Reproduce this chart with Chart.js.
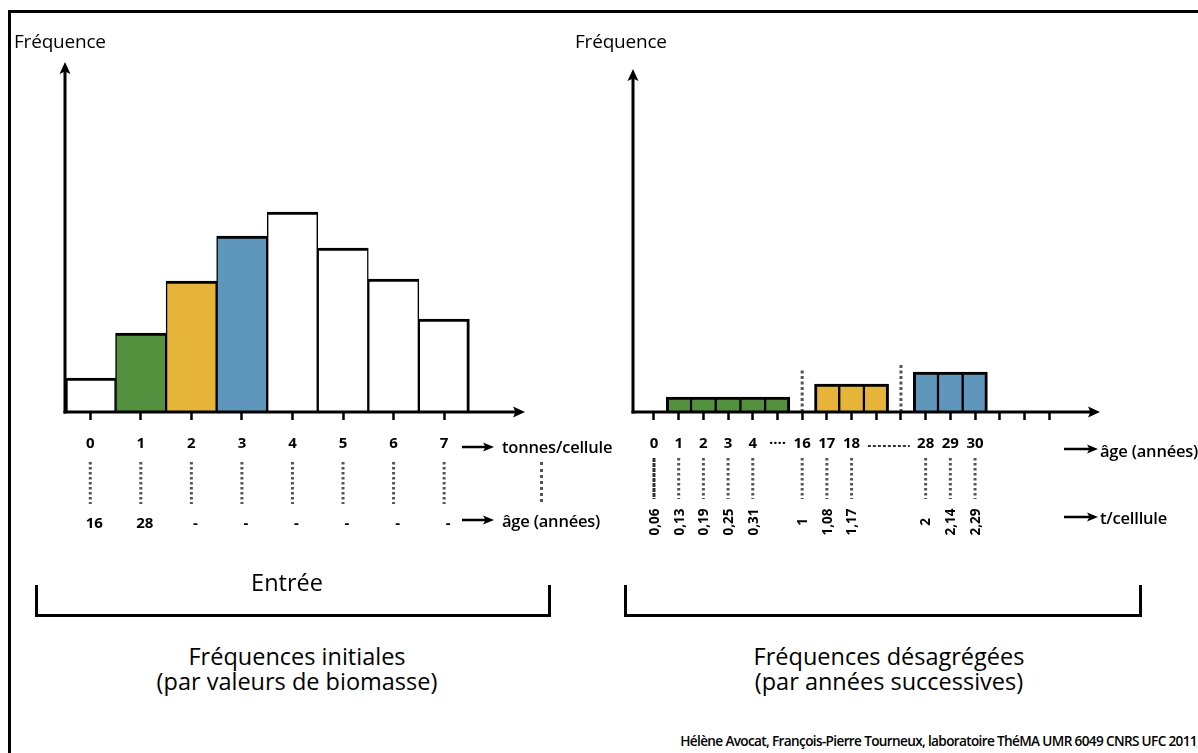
<!DOCTYPE html>
<html>
<head>
<meta charset="utf-8">
<script src="https://cdn.jsdelivr.net/npm/chart.js@4.4.1/dist/chart.umd.min.js"></script>
<style>
html,body{margin:0;padding:0;background:#fff;width:1198px;height:753px;overflow:hidden;}
body{position:relative;font-family:'Open Sans',sans-serif;color:#000;}
.abs{position:absolute;white-space:nowrap;line-height:1;}
#frame{position:absolute;left:8px;top:10px;width:1400px;height:1000px;border:3px solid #000;box-sizing:border-box;}
.box{position:absolute;}
.freq{font-size:19px;font-weight:400;letter-spacing:-0.2px;}
.unit{font-size:16.5px;font-weight:600;letter-spacing:-0.2px;}
.title{font-size:23.5px;font-weight:400;text-align:center;width:400px;}
.bracket{position:absolute;border:3px solid #000;border-top:none;box-sizing:border-box;height:32px;top:585px;}
.credit{font-size:13.6px;font-weight:600;letter-spacing:-0.65px;right:1px;top:734px;}
.dotv{position:absolute;border-left:3px dotted #555;width:0;}
</style>
</head>
<body>
<div id="frame"></div>

<div class="box" style="left:0;top:0;width:600px;height:600px;"><canvas id="left"></canvas></div>
<div class="box" style="left:600px;top:0;width:598px;height:600px;"><canvas id="right"></canvas></div>

<div class="abs freq" style="left:14px;top:32px;">Fréquence</div>
<div class="abs freq" style="left:575px;top:32px;">Fréquence</div>

<svg class="abs" style="left:462px;top:442px" width="32" height="10"><line x1="0" y1="5" x2="24" y2="5" stroke="#000" stroke-width="2.5"/><path d="M32 5 L21 0.5 L23.5 5 L21 9.5Z" fill="#000"/></svg>
<div class="abs unit" style="left:502px;top:439px;">tonnes/cellule</div>
<div class="dotv" style="left:540px;top:462px;height:40px;"></div>
<svg class="abs" style="left:462px;top:515px" width="32" height="10"><line x1="0" y1="5" x2="24" y2="5" stroke="#000" stroke-width="2.5"/><path d="M32 5 L21 0.5 L23.5 5 L21 9.5Z" fill="#000"/></svg>
<div class="abs unit" style="left:502px;top:513px;">âge (années)</div>

<svg class="abs" style="left:1064px;top:444px" width="34" height="10"><line x1="0" y1="5" x2="26" y2="5" stroke="#000" stroke-width="2.5"/><path d="M34 5 L23 0.5 L25.5 5 L23 9.5Z" fill="#000"/></svg>
<div class="abs unit" style="left:1100px;top:443px;">âge (années)</div>
<svg class="abs" style="left:1064px;top:512px" width="34" height="10"><line x1="0" y1="5" x2="26" y2="5" stroke="#000" stroke-width="2.5"/><path d="M34 5 L23 0.5 L25.5 5 L23 9.5Z" fill="#000"/></svg>
<div class="abs unit" style="left:1100px;top:510px;">t/celllule</div>

<div class="abs title" style="left:87px;top:571px;font-size:23.5px;">Entrée</div>
<div class="bracket" style="left:35px;width:516px;"></div>
<div class="bracket" style="left:624px;width:518px;"></div>

<div class="abs title" style="left:97px;top:645px;">Fréquences initiales</div>
<div class="abs title" style="left:97px;top:670px;">(par valeurs de biomasse)</div>
<div class="abs title" style="left:689px;top:645px;">Fréquences désagrégées</div>
<div class="abs title" style="left:689px;top:670px;">(par années successives)</div>

<div class="abs credit">Hélène Avocat, François-Pierre Tourneux, laboratoire ThéMA UMR 6049 CNRS UFC 2011</div>

<script>
// ---------------- DATA ----------------
// Left: initial frequencies by biomass value (tonnes/cellule)
const tonnesValues   = [0, 1, 2, 3, 4, 5, 6, 7];
const tonnesLabels   = ['0', '1', '2', '3', '4', '5', '6', '7'];
const initialFreq    = [34, 79, 131, 176, 200, 164, 133, 93];
const initialGroup   = ['none', 'g1', 'g2', 'g3', 'none', 'none', 'none', 'none'];
const initialAgeLabels = ['16', '28', '-', '-', '-', '-', '-', '-'];

// Right: disaggregated frequencies by successive years (age slots)
const ageSlots       = [1, 2, 3, 4, 5, 7, 8, 9, 11, 12, 13];
const ageFreq        = [15, 15, 15, 15, 15, 28, 28, 28, 40, 40, 40];
const ageGroup       = ['g1', 'g1', 'g1', 'g1', 'g1', 'g2', 'g2', 'g2', 'g3', 'g3', 'g3'];
const ageTickValues  = [0, 1, 2, 3, 4, 5, 6, 7, 8, 9, 10, 11, 12, 13, 14, 15, 16];
const ageTickLabels  = ['0', '1', '2', '3', '4', '····', '16', '17', '18', '', '', '28', '29', '30', '', '', ''];
const tcellSlots     = [0, 1, 2, 3, 4, 6, 7, 8, 11, 12, 13];
const tcellLabels    = ['0,06', '0,13', '0,19', '0,25', '0,31', '1', '1,08', '1,17', '2', '2,14', '2,29'];
const separatorSlots = [6, 10];
const separatorTops  = [42, 48];
const gapDots        = [8.66, 10.36];

const groupColors = { none: '#ffffff', g1: '#54913f', g2: '#e7b43a', g3: '#5e97bb' };

// ---------------- PLUGIN ----------------
const diagram = {
  id: 'diagram',
  afterDatasetsDraw(chart, args, o) {
    const { ctx, chartArea: { left, right, top, bottom }, scales: { x, y } } = chart;
    ctx.save();
    // separators (dotted vertical) in plot area
    (o.sepX || []).forEach((sx, i) => {
      const px = x.getPixelForValue(sx), py = y.getPixelForValue(o.sepTop[i]);
      ctx.strokeStyle = '#555'; ctx.lineWidth = 3; ctx.setLineDash([3, 2.5]);
      ctx.beginPath(); ctx.moveTo(px, bottom); ctx.lineTo(px, py); ctx.stroke();
    });
    ctx.setLineDash([]);
    // axes with arrows
    ctx.strokeStyle = '#000'; ctx.fillStyle = '#000'; ctx.lineWidth = 3;
    ctx.beginPath(); ctx.moveTo(left, bottom + 1.5); ctx.lineTo(left, top + 8); ctx.stroke();
    ctx.beginPath(); ctx.moveTo(left - 1.5, bottom); ctx.lineTo(right - 8, bottom); ctx.stroke();
    ctx.beginPath(); ctx.moveTo(left, top); ctx.lineTo(left - 5.5, top + 12); ctx.lineTo(left, top + 9.5); ctx.lineTo(left + 5.5, top + 12); ctx.closePath(); ctx.fill();
    ctx.beginPath(); ctx.moveTo(right, bottom); ctx.lineTo(right - 12, bottom - 5.5); ctx.lineTo(right - 9.5, bottom); ctx.lineTo(right - 12, bottom + 5.5); ctx.closePath(); ctx.fill();
    // dotted guide lines below tick labels
    (o.guideX || []).forEach((gx, i) => {
      const px = x.getPixelForValue(gx);
      ctx.strokeStyle = (o.denseFirst && i === 0) ? '#333' : '#555';
      ctx.lineWidth = 3;
      ctx.setLineDash((o.denseFirst && i === 0) ? [4, 1] : [2.5, 2.5]);
      ctx.beginPath(); ctx.moveTo(px, bottom + o.guideTop); ctx.lineTo(px, bottom + o.guideBottom); ctx.stroke();
    });
    ctx.setLineDash([]);
    // dotted gap in first label row
    if (o.gapDots) {
      ctx.strokeStyle = '#333'; ctx.lineWidth = 2; ctx.setLineDash([3, 2]);
      const y0 = bottom + o.gapY;
      ctx.beginPath(); ctx.moveTo(x.getPixelForValue(o.gapDots[0]), y0); ctx.lineTo(x.getPixelForValue(o.gapDots[1]), y0); ctx.stroke();
      ctx.setLineDash([]);
    }
    // second label row
    ctx.fillStyle = '#000';
    ctx.font = o.rowFont;
    (o.rowX || []).forEach((rx, i) => {
      const px = x.getPixelForValue(rx);
      if (o.rotate) {
        ctx.save();
        ctx.translate(px, bottom + o.rowY);
        ctx.rotate(-Math.PI / 2);
        ctx.textAlign = 'center'; ctx.textBaseline = 'middle';
        ctx.fillText(o.rowLabels[i], 0, 1);
        ctx.restore();
      } else {
        ctx.textAlign = 'center'; ctx.textBaseline = 'alphabetic';
        ctx.fillText(o.rowLabels[i], px + 4, bottom + o.rowY);
      }
    });
    ctx.restore();
  }
};

function edgeWidths(slots) {
  return (c) => {
    const s = slots[c.dataIndex];
    const hasPrev = slots.includes(s - 1), hasNext = slots.includes(s + 1);
    return { top: 3, bottom: 0, left: hasPrev ? 1.5 : 3, right: hasNext ? 1.5 : 3 };
  };
}

const tickFont = { family: "'Open Sans', sans-serif", size: 15, weight: '700' };

function makeChart(id, cfg) {
  return new Chart(document.getElementById(id), {
    type: 'bar',
    data: {
      datasets: [{
        data: cfg.xs.map((v, i) => ({ x: v, y: cfg.ys[i] })),
        backgroundColor: cfg.groups.map(g => groupColors[g]),
        borderColor: '#000',
        borderWidth: edgeWidths(cfg.xs),
        borderSkipped: 'start',
        categoryPercentage: 1,
        barPercentage: 1
      }]
    },
    options: {
      responsive: true,
      maintainAspectRatio: false,
      devicePixelRatio: 1,
      animation: false,
      layout: { padding: cfg.padding },
      plugins: { legend: { display: false }, tooltip: { enabled: false }, diagram: cfg.plugin },
      scales: {
        x: {
          type: 'linear', min: cfg.xmin, max: cfg.xmax, offset: false,
          afterBuildTicks: (s) => { s.ticks = cfg.tickValues.map(v => ({ value: v })); },
          afterFit: (s) => { s.height = 188; },
          ticks: {
            autoSkip: false, maxRotation: 0, minRotation: 0, padding: 15, color: '#000', font: tickFont,
            callback: (v, i) => cfg.tickLabels[i]
          },
          grid: { display: true, offset: false, drawOnChartArea: false, drawTicks: true, tickLength: 8, tickWidth: 2.5, tickColor: '#000' },
          border: { display: false }
        },
        y: { display: false, min: 0, max: cfg.ymax }
      }
    },
    plugins: [diagram]
  });
}

makeChart('left', {
  xs: tonnesValues, ys: initialFreq, groups: initialGroup,
  xmin: -0.5, xmax: 8.6, ymax: 350,
  tickValues: tonnesValues, tickLabels: tonnesLabels,
  padding: { left: 65, top: 62, right: 75, bottom: 0 },
  plugin: {
    guideX: tonnesValues, guideTop: 50, guideBottom: 92,
    rowX: tonnesValues, rowLabels: initialAgeLabels, rowY: 116, rotate: false,
    rowFont: "700 15px 'Open Sans', sans-serif"
  }
});

makeChart('right', {
  xs: ageSlots, ys: ageFreq, groups: ageGroup,
  xmin: -0.85, xmax: 18.06, ymax: 343,
  tickValues: ageTickValues, tickLabels: ageTickLabels,
  padding: { left: 33, top: 69, right: 98, bottom: 0 },
  plugin: {
    sepX: separatorSlots, sepTop: separatorTops,
    gapDots: gapDots, gapY: 34,
    guideX: tcellSlots, guideTop: 46, guideBottom: 87, denseFirst: true,
    rowX: tcellSlots, rowLabels: tcellLabels, rowY: 110, rotate: true,
    rowFont: "700 13.5px 'Open Sans', sans-serif"
  }
});
</script>
</body>
</html>
